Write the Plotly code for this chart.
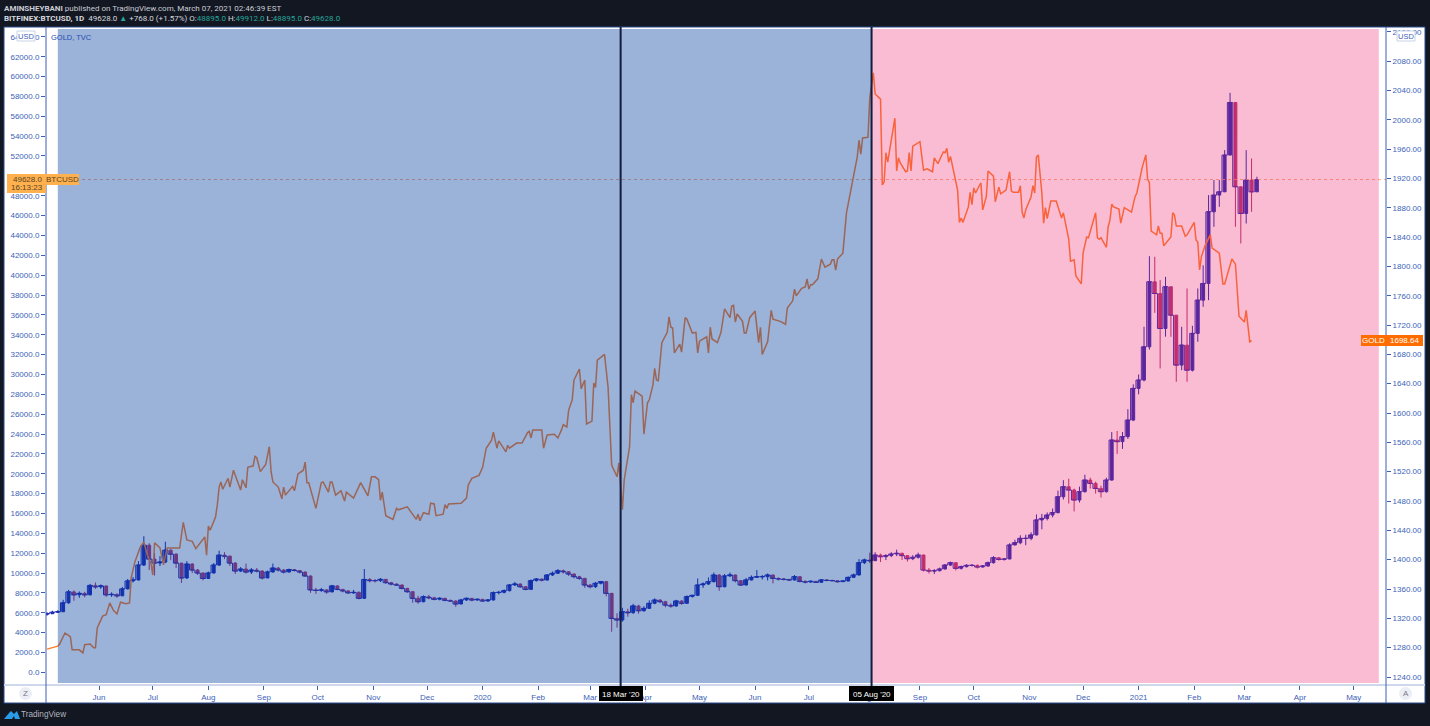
import pandas as pd
import plotly.graph_objects as go

# gold (TVC), days counted from 2019-06-01 and closing prices
gold_days = [-29, -23, -22, -19, -16, -15, -11, -9, -8, -5, -3, -2, -1, 2, 4, 6, 8, 10, 12, 15, 17, 18, 20, 23, 25, 27, 29, 30, 31, 34,
             36, 38, 41, 45, 46, 47, 49, 52, 54, 59, 60, 61, 62, 65, 66, 67, 68, 69, 72, 73, 75, 79, 80, 82, 83, 86, 87, 88, 90, 93,
             95, 96, 97, 100, 102, 103, 104, 108, 109, 111, 114, 115, 116, 117, 121, 124, 125, 128, 129, 130, 132, 135, 137, 138, 142, 146, 150, 152, 154, 156,
             157, 158, 160, 164, 166, 167, 172, 175, 177, 178, 179, 181, 184, 185, 187, 188, 192, 193, 194, 195, 200, 202, 205, 206, 208, 212, 214, 216, 219, 220,
             222, 223, 227, 228, 229, 233, 236, 239, 240, 241, 242, 247, 248, 250, 254, 256, 258, 259, 261, 262, 264, 265, 268, 269, 271, 272, 275, 276, 277, 278,
             282, 283, 284, 286, 288, 289, 290, 292, 293, 295, 296, 297, 298, 299, 303, 304, 305, 306, 307, 309, 310, 311, 312, 313, 314, 317, 318, 319, 320, 321,
             324, 325, 327, 328, 331, 333, 334, 335, 339, 340, 341, 342, 345, 347, 349, 352, 353, 354, 355, 356, 359, 360, 361, 363, 366, 368, 369, 370, 373, 375,
             376, 380, 383, 384, 387, 388, 389, 392, 394, 395, 396, 397, 398, 401, 403, 405, 408, 409, 410, 411, 412, 415, 417, 420, 423, 424, 425, 426, 429, 430,
             432, 433, 436, 437, 438, 439, 440, 444, 445, 446, 447, 450, 451, 452, 453, 454, 458, 460, 462, 465, 466, 468, 471, 472, 473, 474, 475, 479, 480, 481,
             482, 485, 486, 487, 488, 489, 492, 493, 495, 496, 499, 500, 502, 503, 506, 508, 509, 510, 513, 514, 515, 516, 517, 520, 521, 522, 523, 524, 526, 527,
             528, 529, 531, 534, 537, 538, 541, 542, 544, 545, 548, 549, 551, 552, 556, 557, 558, 559, 562, 563, 564, 565, 566, 569, 570, 572, 576, 578, 579, 582,
             584, 585, 586, 587, 590, 591, 592, 593, 594, 598, 599, 600, 601, 604, 606, 607, 611, 612, 613, 614, 615, 617, 620, 621, 625, 627, 628, 632, 634, 636,
             639, 640, 642, 643]
gold_values = [1278, 1282, 1285, 1300, 1295, 1277, 1277, 1273, 1284, 1285, 1280, 1280, 1307, 1323, 1325, 1341, 1331, 1326, 1342, 1340, 1341, 1376, 1397, 1417, 1424, 1406, 1395, 1379, 1423, 1416,
               1393, 1416, 1416, 1416, 1434, 1451, 1427, 1425, 1415, 1431, 1406, 1446, 1440, 1458, 1475, 1499, 1506, 1496, 1511, 1499, 1522, 1495, 1509, 1498, 1526, 1528, 1541, 1539, 1520, 1530,
               1554, 1520, 1506, 1499, 1483, 1499, 1488, 1500, 1494, 1517, 1522, 1533, 1505, 1505, 1470, 1505, 1506, 1492, 1506, 1506, 1488, 1494, 1480, 1492, 1484, 1505, 1487, 1513, 1513, 1509,
               1481, 1492, 1460, 1455, 1470, 1468, 1472, 1462, 1455, 1462, 1453, 1464, 1462, 1477, 1476, 1460, 1462, 1475, 1470, 1476, 1476, 1477, 1484, 1502, 1511, 1515, 1526, 1552, 1563, 1574,
               1552, 1562, 1547, 1556, 1552, 1559, 1559, 1573, 1575, 1566, 1577, 1577, 1552, 1570, 1571, 1566, 1577, 1584, 1581, 1604, 1618, 1645, 1660, 1633, 1645, 1585, 1589, 1641, 1635, 1672,
               1680, 1652, 1635, 1529, 1518, 1513, 1532, 1468, 1509, 1543, 1554, 1625, 1614, 1630, 1623, 1571, 1590, 1614, 1618, 1638, 1661, 1645, 1644, 1672, 1696, 1710, 1731, 1717, 1716, 1682,
               1694, 1683, 1730, 1728, 1709, 1710, 1682, 1698, 1704, 1682, 1717, 1701, 1696, 1710, 1742, 1730, 1746, 1747, 1724, 1735, 1725, 1709, 1709, 1730, 1739, 1696, 1717, 1680, 1697, 1740,
               1728, 1725, 1721, 1743, 1753, 1769, 1760, 1770, 1772, 1783, 1769, 1775, 1775, 1783, 1810, 1799, 1803, 1809, 1809, 1795, 1810, 1818, 1873, 1911, 1949, 1972, 1953, 1975, 1976, 2030,
               2064, 2035, 2028, 1911, 1915, 1955, 1942, 2002, 1930, 1948, 1941, 1929, 1930, 1955, 1930, 1964, 1970, 1931, 1933, 1929, 1948, 1940, 1956, 1955, 1961, 1942, 1950, 1904, 1860, 1866,
               1860, 1881, 1901, 1884, 1907, 1900, 1914, 1877, 1895, 1930, 1923, 1888, 1908, 1899, 1904, 1929, 1903, 1901, 1901, 1910, 1874, 1866, 1877, 1895, 1910, 1900, 1949, 1952, 1900, 1859,
               1880, 1865, 1889, 1889, 1866, 1873, 1837, 1807, 1809, 1787, 1776, 1818, 1840, 1839, 1873, 1839, 1837, 1839, 1826, 1854, 1863, 1885, 1881, 1878, 1859, 1880, 1874, 1895, 1900, 1935,
               1952, 1919, 1914, 1848, 1843, 1855, 1845, 1845, 1828, 1840, 1873, 1870, 1855, 1855, 1841, 1843, 1860, 1836, 1833, 1795, 1813, 1828, 1843, 1825, 1818, 1776, 1776, 1810, 1803, 1732,
               1724, 1740, 1697, 1698.64]

# btc candles, one every three days from 2019-05-03
btc_close = [5900, 6050, 6100, 7000, 8100, 7800, 7950, 7800, 8750, 8600, 8700, 7800, 7850, 7700, 8400, 9200, 9300, 10800, 12800, 11400,
             11000, 11100, 12300, 11900, 11000, 9500, 10900, 10300, 10000, 9450, 10000, 10800, 11800, 11700, 11000, 10200, 10400, 10100, 10300, 10200,
             9500, 10100, 10500, 10300, 10100, 10350, 10250, 10100, 9700, 8300, 8250, 8300, 8100, 8700, 8350, 8200, 8000, 8050, 7450, 9350,
             9230, 9230, 9360, 9030, 8890, 8790, 8450, 8120, 7450, 7110, 7610, 7510, 7350, 7450, 7250, 7180, 6880, 7280, 7450, 7280,
             7350, 7180, 7280, 8020, 8050, 8220, 8790, 8890, 8620, 8350, 9230, 9390, 9290, 9800, 9970, 10230, 10130, 9900, 9630, 9460,
             8790, 8620, 8960, 9130, 7950, 5430, 5270, 6100, 6000, 6680, 6200, 6440, 6945, 7280, 7110, 6770, 6680, 7180, 6945, 7620,
             7750, 8790, 8890, 9130, 9800, 8620, 9700, 9800, 9230, 8790, 9300, 9560, 9630, 9630, 9800, 9460, 9400, 9360, 9300, 9630,
             9160, 9090, 9160, 9060, 9300, 9260, 9230, 9130, 9190, 9560, 9800, 11040, 11310, 11240, 11810, 11640, 11750, 11910, 11980, 11750,
             11440, 11580, 11810, 10300, 10200, 10230, 10400, 10800, 11040, 10470, 10640, 10770, 10770, 10600, 10700, 11040, 11540, 11370, 11410, 12820,
             13050, 13490, 13490, 13830, 15340, 15500, 15840, 16080, 17680, 18690, 18360, 17350, 18190, 19360, 19030, 18520, 18190, 19360, 23390, 23230,
             23730, 25400, 28590, 29430, 32780, 39330, 38150, 34630, 38830, 35970, 30940, 32950, 30430, 34130, 37480, 39160, 46380, 48060, 48390, 52090,
             57390, 48900, 46210, 49570, 48390, 49628]
btc_high = [6050, 6200, 6250, 7300, 8300, 8250, 8150, 8100, 8900, 9050, 8850, 8700, 8050, 7950, 8600, 9400, 9600, 11200, 13700, 13000,
            12000, 11700, 13150, 12400, 12000, 11000, 11200, 11000, 10400, 10050, 10150, 11000, 12250, 12100, 11750, 11100, 10600, 10950, 10500, 10500,
            10250, 10250, 10950, 10600, 10400, 10450, 10400, 10300, 10150, 9750, 8500, 8500, 8350, 8800, 8750, 8400, 8250, 8300, 8150, 10400,
            9500, 9400, 9500, 9400, 9100, 8950, 8850, 8500, 8150, 7700, 7750, 7800, 7600, 7550, 7500, 7300, 7250, 7400, 7520, 7480,
            7420, 7380, 7350, 8150, 8200, 8350, 8900, 9100, 8950, 8650, 9350, 9500, 9450, 9900, 10150, 10400, 10350, 10200, 9950, 9720,
            9500, 8900, 9100, 9200, 9200, 8000, 5950, 6500, 6400, 6900, 6800, 6650, 7250, 7450, 7350, 7200, 6950, 7300, 7250, 7750,
            7800, 9450, 9050, 9550, 10050, 9900, 9900, 10050, 9850, 9300, 9500, 9750, 10300, 9800, 9950, 9850, 9550, 9500, 9400, 9800,
            9650, 9250, 9250, 9200, 9400, 9350, 9300, 9280, 9250, 9650, 9950, 11400, 11450, 12050, 12100, 11950, 11900, 12100, 12350, 12050,
            11800, 11800, 12050, 11850, 10500, 10400, 10550, 10900, 11150, 11050, 10750, 10900, 10900, 10850, 10800, 11150, 11700, 11550, 11500, 13000,
            13350, 13800, 13850, 14100, 15900, 15950, 16100, 16500, 18300, 19350, 19500, 18500, 18700, 19900, 19600, 19200, 18800, 19600, 24200, 24300,
            24200, 26500, 29000, 30000, 34800, 41910, 41850, 39500, 39830, 37820, 35470, 34800, 38660, 34900, 38660, 40990, 48060, 49570, 49570, 52590,
            58360, 54100, 48390, 52590, 51750, 49912]
btc_low = [5700, 5900, 6000, 6100, 6900, 7200, 7500, 7550, 7750, 8400, 8400, 7600, 7600, 7500, 7700, 8350, 9050, 9250, 10700, 10300,
           9750, 10700, 11000, 11300, 10500, 9000, 9400, 10000, 9800, 9250, 9400, 9950, 10700, 11400, 10700, 9900, 10100, 9950, 9900, 10050,
           9350, 9500, 10050, 10150, 9950, 10050, 10150, 9950, 9650, 8000, 7900, 8100, 7900, 8050, 8250, 8050, 7900, 7900, 7350, 7400,
           9050, 9050, 9100, 8900, 8750, 8700, 8350, 8000, 7000, 6900, 7050, 7350, 7250, 7250, 7150, 7100, 6600, 6850, 7200, 7150,
           7200, 7100, 7100, 7250, 7850, 7950, 8150, 8700, 8500, 8250, 8300, 9150, 9150, 9250, 9700, 9900, 9950, 9700, 9450, 9300,
           8500, 8450, 8500, 8850, 7650, 4090, 4500, 5100, 5600, 5900, 5900, 6100, 6400, 6850, 6950, 6550, 6500, 6600, 6800, 6900,
           7550, 7700, 8500, 8800, 9050, 8200, 8550, 9600, 9050, 8700, 8750, 9250, 9500, 9350, 9250, 8950, 9250, 9250, 9200, 9250,
           9050, 8950, 9050, 9000, 9050, 9150, 9150, 9050, 9100, 9180, 9550, 9750, 10900, 11000, 11200, 11100, 11300, 11600, 11700, 11300,
           11150, 11300, 11450, 10150, 9950, 9900, 10150, 10350, 10700, 10250, 10350, 10550, 10650, 10450, 10550, 10650, 10950, 11250, 11250, 11400,
           12800, 12900, 12800, 13300, 13800, 14400, 15300, 15600, 16000, 17400, 17000, 16200, 17100, 18100, 18500, 18000, 17600, 18100, 19300, 22000,
           22500, 23500, 25300, 28000, 29300, 32500, 36200, 30600, 33800, 33790, 29260, 30430, 29260, 30300, 33290, 36810, 37480, 44870, 46880, 48560,
           52090, 44870, 43190, 45200, 46380, 48390]
btc_open = [5850] + btc_close[:-1]

btc_ticks = list(range(0, 66000, 2000))
gold_ticks = list(range(1240, 2160, 40))
month_ticks = ['2019-06-01', '2019-07-01', '2019-08-01', '2019-09-01', '2019-10-01', '2019-11-01', '2019-12-01', '2020-01-01',
               '2020-02-01', '2020-03-01', '2020-04-01', '2020-05-01', '2020-06-01', '2020-07-01', '2020-08-01', '2020-09-01',
               '2020-10-01', '2020-11-01', '2020-12-01', '2021-01-01', '2021-02-01', '2021-03-01', '2021-04-01', '2021-05-01']
month_labels = ['Jun', 'Jul', 'Aug', 'Sep', 'Oct', 'Nov', 'Dec', '2020', 'Feb', 'Mar', 'Apr', 'May',
                'Jun', 'Jul', 'Aug', 'Sep', 'Oct', 'Nov', 'Dec', '2021', 'Feb', 'Mar', 'Apr', 'May']

W, H = 1430, 726
L, R, T, B = 46, 1386, 27, 685
AXIS_BLUE = '#3c5fb8'
FONT = 'Liberation Sans'
DARK = '#131722'


def px(x):
    return x / W


def py(y):
    return 1 - y / H


day_zero = pd.Timestamp('2019-06-01')
gold_dates = day_zero + pd.to_timedelta(gold_days, unit='D')
btc_dates = pd.date_range('2019-05-03', periods=len(btc_close), freq='3D')

fig = go.Figure()
# thin step through the closes so the candles read as one run
fig.add_trace(go.Scatter(
    x=btc_dates, y=btc_close, mode='lines', line=dict(color='#1e28b4', width=1, shape='hvh'),
    showlegend=False, hoverinfo='skip', yaxis='y'))
fig.add_trace(go.Candlestick(
    x=btc_dates, open=btc_open, high=btc_high, low=btc_low, close=btc_close,
    increasing=dict(line=dict(color='#1e28b4', width=1), fillcolor='#1e28b4'),
    decreasing=dict(line=dict(color='#b2326f', width=1), fillcolor='#b2326f'),
    showlegend=False, hoverinfo='skip', yaxis='y'))
fig.add_trace(go.Scatter(
    x=gold_dates, y=gold_values, mode='lines', line=dict(color='#ff8026', width=1.5),
    showlegend=False, hoverinfo='skip', yaxis='y2'))


def frame_line(x0, y0, x1, y1, color, width=1):
    return dict(type='line', xref='paper', yref='paper', x0=px(x0), x1=px(x1), y0=py(y0), y1=py(y1),
                line=dict(color=color, width=width), layer='above')


def box(x0, y0, x1, y1, fill, border=None):
    return dict(type='rect', xref='paper', yref='paper', x0=px(x0), x1=px(x1), y0=py(y1), y1=py(y0),
                fillcolor=fill, line=dict(color=border, width=1) if border else dict(width=0), layer='above')


shapes = [
    # white panel of the chart
    dict(type='rect', xref='paper', yref='paper', x0=px(4), x1=px(1425), y0=py(703), y1=py(27),
         fillcolor='white', line=dict(color='#2a4a8c', width=1), layer='below'),
    # last price line, under the two coloured boxes
    dict(type='line', xref='paper', yref='y', x0=px(L), x1=px(R), y0=49628, y1=49628,
         line=dict(color='#ff9a60', width=0.8, dash='dot'), layer='above'),
    dict(type='rect', xref='x', yref='paper', x0='2019-05-09', x1='2020-08-05', y0=py(683), y1=py(29),
         fillcolor='rgba(5,63,160,0.40)', line=dict(width=0), layer='above'),
    dict(type='rect', xref='x', yref='paper', x0='2020-08-05', x1='2021-05-15', y0=py(683), y1=py(29),
         fillcolor='rgba(235,32,108,0.30)', line=dict(width=0), layer='above'),
    frame_line(4, 685, 1425, 685, '#cfd8ea', 2),
    dict(type='line', xref='x', yref='paper', x0='2020-03-18', x1='2020-03-18', y0=py(686), y1=py(27),
         line=dict(color='#131d3f', width=2), layer='above'),
    dict(type='line', xref='x', yref='paper', x0='2020-08-05', x1='2020-08-05', y0=py(686), y1=py(27),
         line=dict(color='#131d3f', width=2), layer='above'),
    frame_line(46, 27, 46, 703, AXIS_BLUE),
    frame_line(1386, 27, 1386, 703, AXIS_BLUE),
    # zoom and auto buttons
    dict(type='circle', xref='paper', yref='paper', x0=px(19), x1=px(32), y0=py(700), y1=py(687),
         fillcolor='#eceef5', line=dict(width=0), layer='above'),
    dict(type='circle', xref='paper', yref='paper', x0=px(1399), x1=px(1412), y0=py(700), y1=py(687),
         fillcolor='#eceef5', line=dict(width=0), layer='above'),
    # boxes behind the labels
    box(17, 31, 35, 41, 'white', '#c8d2e8'),
    box(1397, 31, 1415, 41, 'white', '#c8d2e8'),
    box(7, 174, 46, 193, '#ffb04f'),
    box(46, 174, 79, 185, '#ffb04f'),
    box(1361, 335, 1386, 346, '#ff6d00'),
    box(1386, 335, 1423, 346, '#ff6d00'),
    box(599, 686, 643, 701, 'black'),
    box(849, 686, 894, 701, 'black'),
]

# TradingView cloud mark
logo = [(4, 719), (9, 713), (11, 711), (14, 714), (17, 711), (20, 719), (15, 719), (14, 716), (12, 719)]
logo_path = 'M' + ' L'.join(f'{px(x):.5f},{py(y):.5f}' for x, y in logo) + ' Z'
shapes.append(dict(type='path', xref='paper', yref='paper', path=logo_path, fillcolor='#2a9be8',
                   line=dict(width=0), layer='above'))


def note(x, y, text, color, size=8, xanchor='left', family=FONT):
    return dict(xref='paper', yref='paper', x=px(x), y=py(y), text=text, showarrow=False, xanchor=xanchor,
                yanchor='middle', font=dict(family=family, size=size, color=color), borderpad=0, borderwidth=0)


teal = '#26a69a'
annotations = [
    note(4, 8, '<b>AMINSHEYBANI</b> published on TradingView.com, March 07, 2021 02:46:39 EST', '#c9ccd4', family='Roboto'),
    note(4, 18, '<b>BITFINEX:BTCUSD, 1D</b>  49628.0 <span style="color:%s">▲</span> +768.0 (+1.57%%) '
                'O:<span style="color:%s">48895.0</span> H:<span style="color:%s">49912.0</span> '
                'L:<span style="color:%s">48895.0</span> C:<span style="color:%s">49628.0</span>'
         % (teal, teal, teal, teal, teal), '#d5d8de', family='Roboto'),
    note(51, 37, 'GOLD, TVC', '#2450b0', size=7.5),
    note(26, 36, 'USD', AXIS_BLUE, size=7.5, xanchor='center'),
    note(1406, 36, 'USD', AXIS_BLUE, size=7.5, xanchor='center'),
    note(27, 179.5, '49628.0', '#5a4420', size=8, xanchor='center'),
    note(27, 188, '16:13:23', '#5a4420', size=8, xanchor='center'),
    note(62.5, 179.5, 'BTCUSD', '#5a4420', size=8, xanchor='center'),
    note(1373.5, 340.5, 'GOLD', 'white', size=8, xanchor='center'),
    note(1404.5, 340.5, '1698.64', 'white', size=8, xanchor='center'),
    note(621, 694, "18 Mar '20", 'white', size=8, xanchor='center'),
    note(871.5, 694, "05 Aug '20", 'white', size=8, xanchor='center'),
    note(25.5, 693.5, 'Z', '#787b86', size=8, xanchor='center'),
    note(1405.5, 693.5, 'A', '#787b86', size=8, xanchor='center'),
    note(21, 714, 'TradingView', '#b2b5be', size=8.2),
]

tick_font = dict(family=FONT, size=8, color=AXIS_BLUE)
fig.update_layout(
    width=W, height=H,
    margin=dict(l=0, r=0, t=0, b=0, pad=0),
    paper_bgcolor=DARK, plot_bgcolor='white',
    showlegend=False, boxgap=0.25,
    shapes=shapes, annotations=annotations,
    xaxis=dict(domain=[px(L), px(R)], type='date', range=['2019-05-02 10:00', '2021-05-19'], showgrid=False, zeroline=False,
               rangeslider=dict(visible=False), tickmode='array', tickvals=month_ticks, ticktext=month_labels,
               ticks='outside', ticklen=4, tickcolor=AXIS_BLUE, tickfont=tick_font, automargin=False),
    yaxis=dict(domain=[py(B), py(T)], range=[-1279, 64991], showgrid=False, zeroline=False, side='left', tickmode='array',
               tickvals=btc_ticks, tickformat='.1f', ticks='outside', ticklen=4, tickcolor=AXIS_BLUE,
               tickfont=tick_font, automargin=False),
    yaxis2=dict(domain=[py(B), py(T)], range=[1229.1, 2126.4], overlaying='y', side='right', showgrid=False, zeroline=False,
                tickmode='array', tickvals=gold_ticks, tickformat='.2f', ticks='outside', ticklen=4, tickcolor=AXIS_BLUE,
                tickfont=tick_font, automargin=False),
)

fig.write_html("out.html", post_script="document.body.style.margin='0';", config=dict(displayModeBar=False))
